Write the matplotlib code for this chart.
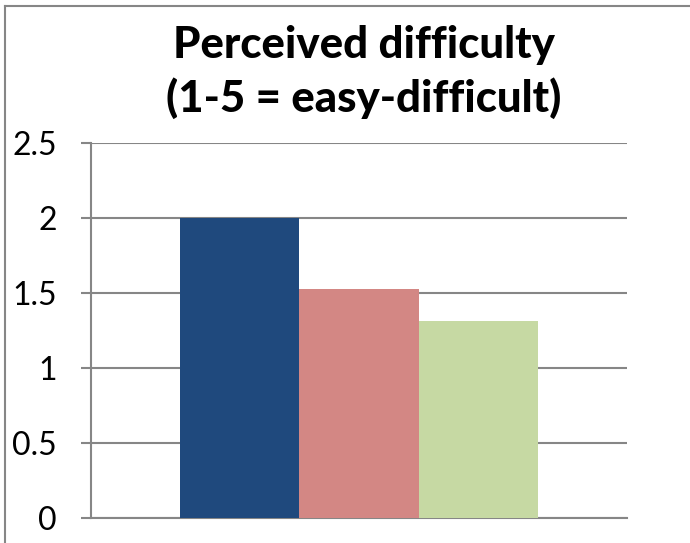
import matplotlib
matplotlib.use("Agg")
import matplotlib.pyplot as plt
from matplotlib.lines import Line2D

title_lines = ["Perceived difficulty", "(1-5 = easy-difficult)"]
series = ["Series 1", "Series 2", "Series 3"]
values = [2.0, 1.53, 1.315]
colors = ["#1F497D", "#D38784", "#C6D9A3"]
yticks = [0, 0.5, 1, 1.5, 2, 2.5]
ytick_labels = ["0", "0.5", "1", "1.5", "2", "2.5"]

W, H = 690, 543
fig = plt.figure(figsize=(W / 100, H / 100), dpi=100)
plt.rcParams['font.family'] = ['Lato', 'DejaVu Sans']

ax = fig.add_axes([91 / W, 1 - 517.7 / H, (627 - 91) / W, (517.7 - 143.3) / H])
x = list(range(len(values)))
ax.bar(x, values, width=1.0, color=colors, zorder=3)
ax.set_xlim(-1.25, 3.25)
ax.set_ylim(0, 2.5)
ax.set_yticks(yticks)
ax.set_yticklabels(ytick_labels, fontsize=23)
ax.set_xticks([])
grid_c = "#868686"
ax.yaxis.grid(True, color=grid_c, linewidth=1.5, zorder=0)
for s in ["top", "right"]:
    ax.spines[s].set_visible(False)
for s in ["left", "bottom"]:
    ax.spines[s].set_color(grid_c)
    ax.spines[s].set_linewidth(1.5)
ax.tick_params(axis='y', length=7.5, width=1.5, color=grid_c, pad=17)

fig.text(364 / W, 1 - 45 / H, title_lines[0], ha='center', va='center',
         fontsize=31.5, fontweight='black')
fig.text(364 / W, 1 - 98 / H, title_lines[1], ha='center', va='center',
         fontsize=31.5, fontweight='black')

fig.add_artist(Line2D([4.5 / W, 4.5 / W], [0, 1 - 6 / H], color=grid_c, linewidth=1.5,
                      transform=fig.transFigure))
fig.add_artist(Line2D([4.5 / W, 1], [1 - 6 / H, 1 - 6 / H], color=grid_c, linewidth=1.5,
                      transform=fig.transFigure))

fig.savefig("out.png", dpi=100)
